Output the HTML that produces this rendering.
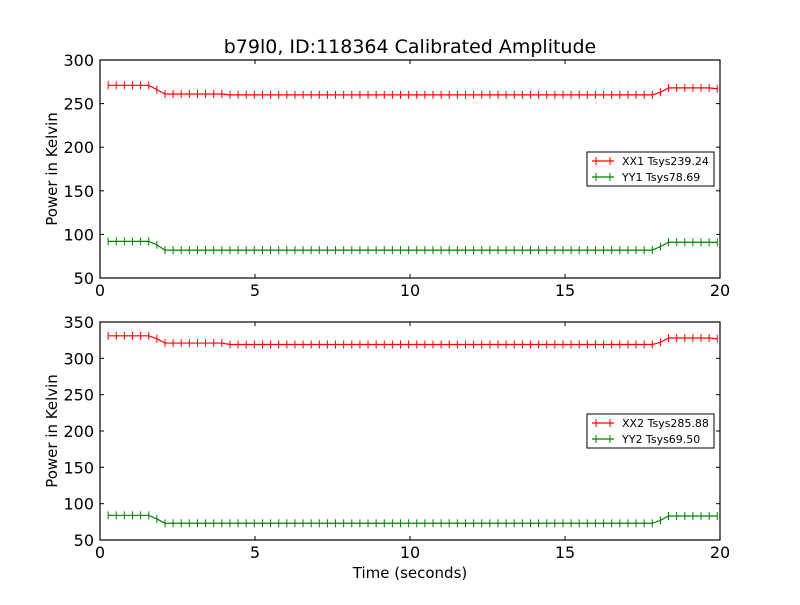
<!DOCTYPE html>
<html><head><meta charset="utf-8"><style>
body{margin:0;background:#fff;}
svg text{font-family:"DejaVu Sans","Liberation Sans",sans-serif;}
</style></head><body>
<svg id="chart" width="800" height="600" xmlns="http://www.w3.org/2000/svg"></svg>
<script>
const step = 0.262;
function rep(v,n){return Array(n).fill(v);}
const xx1 = [].concat(rep(271,6),[266],rep(261,8),rep(260,53),[263],rep(268,6),[267]);
const yy1 = [].concat(rep(92,6),[88],rep(82,61),[86],rep(91,7));
const xx2 = [].concat(rep(331,6),[327],rep(321,8),rep(319,53),[322],rep(328,6),[327]);
const yy2 = [].concat(rep(84,6),[79],rep(73,61),[77],rep(83,7));
const xTicks = [0,5,10,15,20];
const yTicksTop = [50,100,150,200,250,300];
const yTicksBot = [50,100,150,200,250,300,350];
const legendTop = ["XX1 Tsys239.24","YY1 Tsys78.69"];
const legendBot = ["XX2 Tsys285.88","YY2 Tsys69.50"];

const svg = document.getElementById('chart');
const NS = 'http://www.w3.org/2000/svg';
function el(tag, attrs, parent){const e=document.createElementNS(NS,tag);for(const k in attrs)e.setAttribute(k,attrs[k]);(parent||svg).appendChild(e);return e;}
const X0=100,X1=720;
const xs = t => X0 + t/20*(X1-X0);

function panel(top,bot,ymin,ymax,yticks,series,labels,legY,name){
  const g = el('g',{});
  
  
  const ys = v => bot - (v-ymin)/(ymax-ymin)*(bot-top);
  const colors=['#ff0000','#008000'];
  series.forEach((s,si)=>{
    let pts = s.map((v,i)=>xs(step*(i+1))+','+ys(v)).join(' ');
    const pl = el('polyline',{points:pts,fill:'none',stroke:colors[si],'stroke-width':1.2},g);
    
    
    s.forEach((v,i)=>{const x=xs(step*(i+1)),y=ys(v);
      el('line',{x1:x,x2:x,y1:y-4,y2:y+4,stroke:colors[si],'stroke-width':1},g);});
  });
  const frame = el('rect',{x:X0,y:top,width:X1-X0,height:bot-top,fill:'none',stroke:'#000','stroke-width':1.2},g);
  
  
  xTicks.forEach(t=>{const x=xs(t);
    el('line',{x1:x,x2:x,y1:bot,y2:bot-4,stroke:'#000'},g);
    el('line',{x1:x,x2:x,y1:top,y2:top+4,stroke:'#000'},g);
    const tx=el('text',{x:x,y:bot+18,'font-size':16,'text-anchor':'middle'},g);tx.textContent=t;
    
    
  });
  yticks.forEach(v=>{const y=ys(v);
    el('line',{x1:X0,x2:X0+4,y1:y,y2:y,stroke:'#000'},g);
    el('line',{x1:X1,x2:X1-4,y1:y,y2:y,stroke:'#000'},g);
    const tx=el('text',{x:X0-6,y:y+6,'font-size':16,'text-anchor':'end'},g);tx.textContent=v;
    
    
  });
  const yl=el('text',{x:0,y:0,'font-size':15,'text-anchor':'middle',transform:`translate(57,${(top+bot)/2}) rotate(-90)`},g);
  yl.textContent='Power in Kelvin';
  
  
  const lg=el('g',{},g);
  
  
  el('rect',{x:587,y:legY,width:127,height:34,fill:'#fff',stroke:'#000','stroke-width':1},lg);
  labels.forEach((l,i)=>{const y=legY+9+i*16;
    el('line',{x1:592,x2:614,y1:y,y2:y,stroke:colors[i],'stroke-width':1.2},lg);
    el('line',{x1:596,x2:596,y1:y-4,y2:y+4,stroke:colors[i]},lg);
    el('line',{x1:610,x2:610,y1:y-4,y2:y+4,stroke:colors[i]},lg);
    const t=el('text',{x:622,y:y+4,'font-size':11},lg);t.textContent=l;
    
    
  });
}
panel(60,278,50,300,yTicksTop,[xx1,yy1],legendTop,152,'top-panel');
panel(322,540,50,350,yTicksBot,[xx2,yy2],legendBot,414,'bottom-panel');
const title=el('text',{x:410,y:53,'font-size':19,'text-anchor':'middle'});
title.textContent='b79l0, ID:118364 Calibrated Amplitude';


const xt=el('text',{x:410,y:578,'font-size':15,'text-anchor':'middle'});
xt.textContent='Time (seconds)';


</script>
</body></html>
